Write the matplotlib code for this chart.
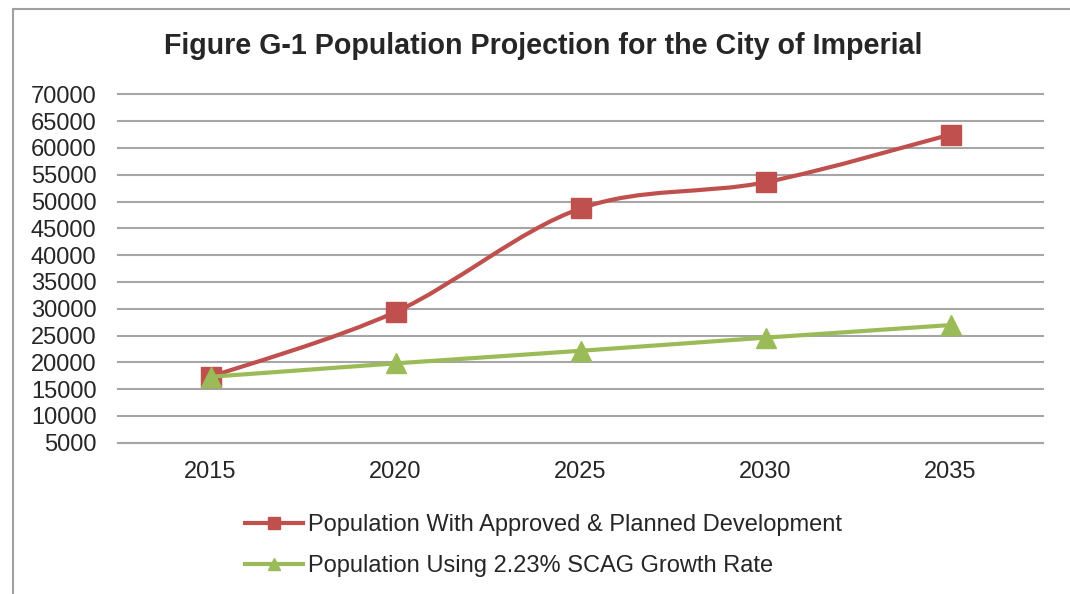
import matplotlib
matplotlib.use("Agg")
import matplotlib.pyplot as plt
import numpy as np
from matplotlib.path import Path
from matplotlib.patches import PathPatch
from matplotlib.lines import Line2D

plt.rcParams['font.family'] = ['Liberation Sans', 'DejaVu Sans']

years = ['2015', '2020', '2025', '2030', '2035']
planned = [17300, 29400, 48700, 53600, 62500]
scag = [17300, 19800, 22150, 24600, 26950]
y_ticks = list(range(5000, 70001, 5000))

title = 'Figure G-1 Population Projection for the City of Imperial'
label_planned = 'Population With Approved & Planned Development'
label_scag = 'Population Using 2.23% SCAG Growth Rate'

RED = '#C0504D'
GREEN = '#9BBB59'
GRID = '#A6A6A6'
TEXT = '#262626'


def smooth_path(xs, ys):
    # Excel-style smoothed line: cubic Bezier through each point
    pts = np.column_stack([xs, ys]).astype(float)
    verts = [pts[0]]
    codes = [Path.MOVETO]
    n = len(pts)
    for i in range(n - 1):
        p0 = pts[max(i - 1, 0)]
        p1 = pts[i]
        p2 = pts[i + 1]
        p3 = pts[min(i + 2, n - 1)]
        c1 = p1 + (p2 - p0) / 6.0
        c2 = p2 - (p3 - p1) / 6.0
        verts += [c1, c2, p2]
        codes += [Path.CURVE4] * 3
    return Path(verts, codes)


fig = plt.figure(figsize=(10.7, 5.94), dpi=100)
ax = fig.add_axes([0.1103, 0.2547, 0.8645, 0.5865])

x = np.arange(len(years))

ax.add_patch(PathPatch(smooth_path(x, planned), fill=False, edgecolor=RED,
                       linewidth=3, capstyle='round', zorder=3))
ax.plot(x, planned, linestyle='none', marker='s', markersize=14,
        color=RED, zorder=4)
ax.plot(x, scag, color=GREEN, linewidth=3, marker='^', markersize=15,
        solid_capstyle='round', zorder=5)

ax.set_xlim(-0.5, len(years) - 0.5)
ax.set_ylim(5000, 70000)
ax.set_xticks(x)
ax.set_xticklabels(years)
ax.set_yticks(y_ticks)
ax.set_yticklabels([str(v) for v in y_ticks])
ax.tick_params(axis='both', length=0, labelsize=17, colors=TEXT)
ax.tick_params(axis='y', pad=15.5)
ax.tick_params(axis='x', pad=13)
ax.grid(axis='y', color=GRID, linewidth=1.5)
for gl in ax.get_ygridlines():
    gl.set_clip_on(False)
ax.set_axisbelow(True)
for side in ['top', 'right', 'left']:
    ax.spines[side].set_visible(False)
ax.spines['bottom'].set_color(GRID)
ax.spines['bottom'].set_linewidth(1.5)

fig.text(0.5075, 0.922, title, ha='center', va='center', fontsize=20.6,
         fontweight='bold', color=TEXT)

handles = [
    Line2D([], [], color=RED, linewidth=3, marker='s', markersize=9),
    Line2D([], [], color=GREEN, linewidth=3, marker='^', markersize=9),
]
fig.legend(handles, [label_planned, label_scag], loc='upper left',
           bbox_to_anchor=(0.229, 0.134), frameon=False, fontsize=17,
           handlelength=2.45, handletextpad=0.2, labelspacing=0.8,
           borderpad=0, borderaxespad=0, labelcolor=TEXT)

# outer chart border (runs off the right and bottom of the image)
fig.add_artist(Line2D([13 / 1070, 1.0], [1 - 9 / 594, 1 - 9 / 594],
                      transform=fig.transFigure, color='#A0A0A0', linewidth=1.5))
fig.add_artist(Line2D([13 / 1070, 13 / 1070], [1 - 9 / 594, 0.0],
                      transform=fig.transFigure, color='#A0A0A0', linewidth=1.5))

fig.savefig('out.png', dpi=100, facecolor='white')
